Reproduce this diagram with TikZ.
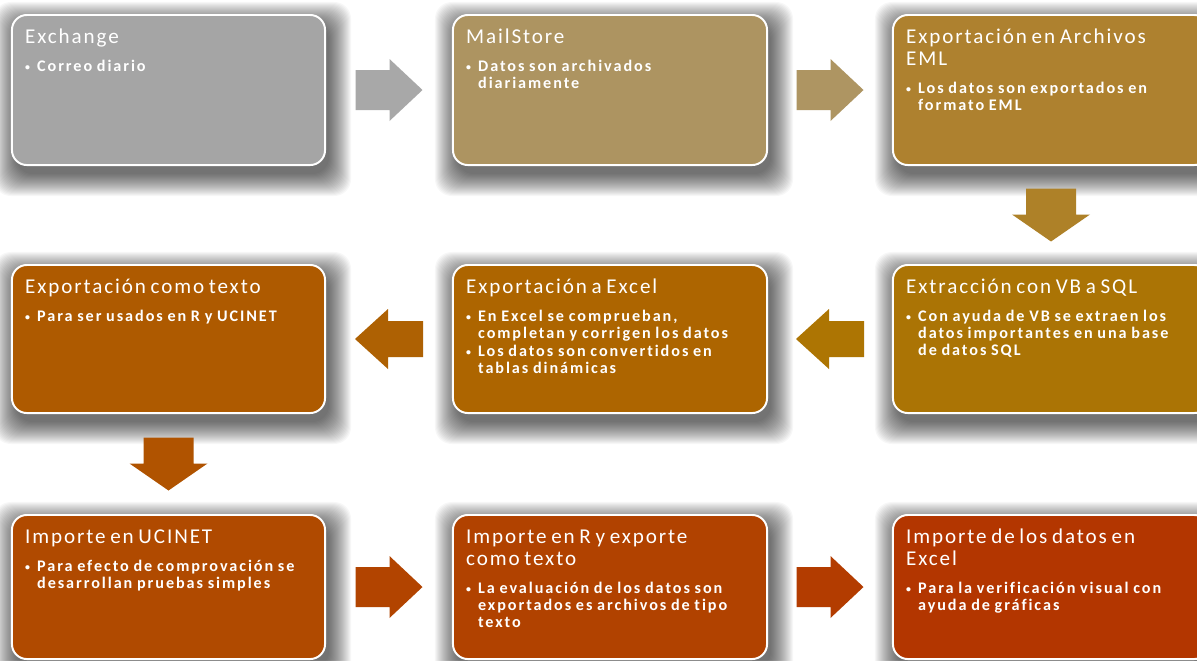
\documentclass[tikz,border=0pt]{standalone}
\usepackage{fontspec}
\setmainfont{Carlito}
\newfontfamily\ttlfam[LetterSpace=9, Ligatures=NoCommon]{Carlito}
\newfontfamily\itmfam[LetterSpace=12, Ligatures=NoCommon]{Carlito}
\usepackage{xcolor}
\usetikzlibrary{backgrounds,calc}

% box colours
\definecolor{cExch}{HTML}{A5A5A5}
\definecolor{cMail}{HTML}{AD9461}
\definecolor{cEml}{HTML}{AE812F}
\definecolor{cSql}{HTML}{AB7405}
\definecolor{cXls}{HTML}{AD6500}
\definecolor{cTxt}{HTML}{AE5A00}
\definecolor{cUci}{HTML}{B04A00}
\definecolor{cRim}{HTML}{B14200}
\definecolor{cGra}{HTML}{B33600}
% arrow colours
\definecolor{aOne}{HTML}{A8A8A8}
\definecolor{aTwo}{HTML}{AE9562}
\definecolor{aThree}{HTML}{AE8128}
\definecolor{aFour}{HTML}{AD7503}
\definecolor{aFive}{HTML}{AE6103}
\definecolor{aSix}{HTML}{B05300}
\definecolor{aSeven}{HTML}{B24400}
\definecolor{aEight}{HTML}{B33C00}

\newcommand\ttl[1]{{\ttlfam\fontsize{15}{15.6}\selectfont\rule{0pt}{11pt}#1\par}\vspace{8pt}}
\newcommand\itm[1]{{\itmfam\bfseries\fontsize{11.5}{12}\selectfont\hangindent=8.5pt\hangafter=1\noindent\makebox[8.5pt][l]{\fontsize{7}{7}\selectfont\raisebox{1pt}{•}}#1\par}\vspace{1pt}}

\tikzset{
  stagebox/.style={rectangle, rounded corners=10.6pt, draw=white, line width=1.4pt,
    inner sep=0pt, outer sep=0pt},
  stageshadow/.style={black, opacity=0.03, rounded corners=12pt},
  stagetext/.style={anchor=north west, text width=7.3cm, align=left, inner sep=0pt, text=white},
  pics/flowarrow/.style n args={4}{code={
    \fill[pic actions]
      (-#1,-#4) -- ({#1-#2},-#4) -- ({#1-#2},-#3) -- (#1,0) -- ({#1-#2},#3) -- ({#1-#2},#4) -- (-#1,#4) -- cycle;
  }}
}

\begin{document}
\begin{tikzpicture}[x=0.025cm, y=-0.025cm]
  % page
  \path[use as bounding box] (0,0) rectangle (1197,660);
  \clip (0,0) rectangle (1197,660);

  % first row
  \node[stagebox, fill=cExch, minimum width=7.825cm, minimum height=3.75cm] (exch) at (168.5,90) {};
  \node[stagebox, fill=cMail, minimum width=7.85cm, minimum height=3.75cm] (mail) at (610,90) {};
  \node[stagebox, fill=cEml, minimum width=7.9cm, minimum height=3.75cm] (eml) at (1051,90) {};

  % second row
  \node[stagebox, fill=cSql, minimum width=7.9cm, minimum height=3.7cm] (sql) at (1051,339) {};
  \node[stagebox, fill=cXls, minimum width=7.85cm, minimum height=3.7cm] (xls) at (610,339) {};
  \node[stagebox, fill=cTxt, minimum width=7.825cm, minimum height=3.7cm] (txt) at (168.5,339) {};

  % third row
  \node[stagebox, fill=cUci, minimum width=7.825cm, minimum height=3.6cm] (uci) at (168.5,587) {};
  \node[stagebox, fill=cRim, minimum width=7.85cm, minimum height=3.6cm] (rim) at (610,587) {};
  \node[stagebox, fill=cGra, minimum width=7.9cm, minimum height=3.6cm] (gra) at (1051,587) {};

  % soft shadows behind the boxes
  \begin{scope}[on background layer]
    \fill[white] (0,0) rectangle (1197,660);
    \foreach \b in {exch,mail,eml,sql,xls,txt,uci,rim,gra}
      \foreach \e in {0,...,22}
        \fill[stageshadow] ([shift={(4-\e,9-\e)}]\b.north west) rectangle ([shift={(4+\e,9+\e)}]\b.south east);
  \end{scope}

  % texts
  \node[stagetext] (exchT) at ([xshift=9.2pt, yshift=-9.2pt]exch.north west)
    {\ttl{Exchange}\itm{Correo diario}};
  \node[stagetext] (mailT) at ([xshift=9.2pt, yshift=-9.2pt]mail.north west)
    {\ttl{MailStore}\itm{Datos son archivados\newline diariamente}};
  \node[stagetext] (emlT) at ([xshift=9.2pt, yshift=-9.2pt]eml.north west)
    {\ttl{Exportación en Archivos\newline EML}\itm{Los datos son exportados en\newline formato EML}};
  \node[stagetext] (sqlT) at ([xshift=9.2pt, yshift=-9.2pt]sql.north west)
    {\ttl{Extracción con VB a SQL}\itm{Con ayuda de VB se extraen los\newline datos importantes en una base\newline de datos SQL}};
  \node[stagetext] (xlsT) at ([xshift=9.2pt, yshift=-9.2pt]xls.north west)
    {\ttl{Exportación a Excel}\itm{En Excel se comprueban,\newline completan y corrigen los datos}\itm{Los datos son convertidos en\newline tablas dinámicas}};
  \node[stagetext] (txtT) at ([xshift=9.2pt, yshift=-9.2pt]txt.north west)
    {\ttl{Exportación como texto}\itm{Para ser usados en R y UCINET}};
  \node[stagetext] (uciT) at ([xshift=9.2pt, yshift=-9.2pt]uci.north west)
    {\ttl{Importe en UCINET}\itm{Para efecto de comprovación se\newline desarrollan pruebas simples}};
  \node[stagetext] (rimT) at ([xshift=9.2pt, yshift=-9.2pt]rim.north west)
    {\ttl{Importe en R y exporte\newline como texto}\itm{La evaluación de los datos son\newline exportados es archivos de tipo\newline texto}};
  \node[stagetext] (graT) at ([xshift=9.2pt, yshift=-9.2pt]gra.north west)
    {\ttl{Importe de los datos en\newline Excel}\itm{Para la verificación visual con\newline ayuda de gráficas}};

  % arrows between the boxes
  \pic[fill=aOne] at ($(exch.east)!0.5!(mail.west)$) {flowarrow={33.5}{33}{31}{20}};
  \pic[fill=aTwo] at ($(mail.east)!0.5!(eml.west)$) {flowarrow={33.5}{33}{31}{20}};
  \pic[fill=aThree, rotate=-90] at ($(eml.south)!0.5!(sql.north)$) {flowarrow={26.5}{27}{39}{25}};
  \pic[fill=aFour, rotate=180] at ($(sql.west)!0.5!(xls.east)$) {flowarrow={34}{33}{30}{18}};
  \pic[fill=aFive, rotate=180] at ($(xls.west)!0.5!(txt.east)$) {flowarrow={34}{33}{30}{18}};
  \pic[fill=aSix, rotate=-90] at ($(txt.south)!0.5!(uci.north)$) {flowarrow={26.5}{27}{39}{25}};
  \pic[fill=aSeven] at ($(uci.east)!0.5!(rim.west)$) {flowarrow={33.5}{33}{31}{20}};
  \pic[fill=aEight] at ($(rim.east)!0.5!(gra.west)$) {flowarrow={33.5}{33}{31}{20}};
\end{tikzpicture}
\end{document}
